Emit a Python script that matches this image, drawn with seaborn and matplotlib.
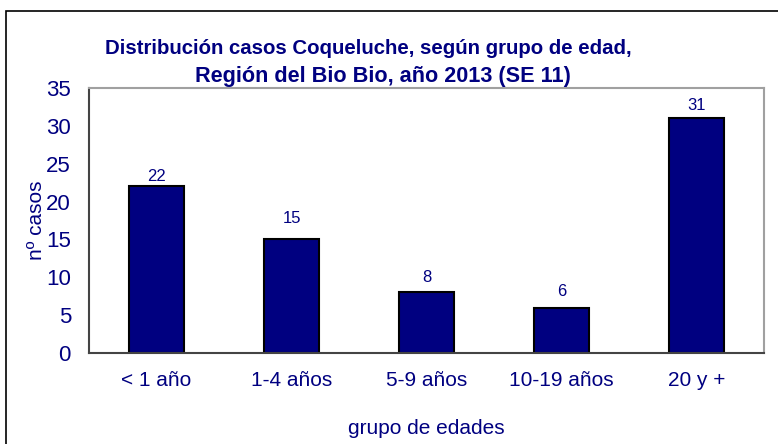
import matplotlib
matplotlib.use("Agg")
import matplotlib.pyplot as plt
import matplotlib.patches as mpatches
from matplotlib.ticker import FixedLocator
import seaborn as sns
import pandas as pd

# data
grupos = ["< 1 año", "1-4 años", "5-9 años", "10-19 años", "20 y +"]
casos = [22, 15, 8, 6, 31]
label_pad = [2, 10, 5, 6, 4]  # points above each bar, like the original

titulo_1 = "Distribución casos Coqueluche, según grupo de edad,"
titulo_2 = "Región del Bio Bio, año 2013 (SE 11)"

navy = "#000080"

sns.set_style("white")
plt.rcParams["font.family"] = ["Liberation Sans", "DejaVu Sans"]

df = pd.DataFrame({"grupo": grupos, "casos": casos})

fig = plt.figure(figsize=(7.78, 4.44), dpi=100)
ax = fig.add_axes([89 / 778, 91 / 444, 675 / 778, 265 / 444])

sns.barplot(data=df, x="grupo", y="casos", color=navy, saturation=1,
            width=0.41, edgecolor="black", linewidth=1.5, ax=ax)

for i, v in enumerate(casos):
    ax.annotate(str(v), (i, v), xytext=(0, label_pad[i]), textcoords="offset points",
                ha="center", va="bottom", fontsize=12, color=navy)

ax.set_ylim(0, 35)
ax.set_xlim(-0.5, len(grupos) - 0.5)
ax.set_yticks(range(0, 36, 5))
ax.xaxis.set_minor_locator(FixedLocator([i - 0.5 for i in range(len(grupos) + 1)]))
ax.tick_params(axis="x", which="major", length=0, labelsize=15, labelcolor=navy, pad=13)
ax.tick_params(axis="x", which="minor", length=6, width=1.2, color="#555555", direction="out")
ax.tick_params(axis="y", length=6, width=1.2, color="#555555", direction="out",
               labelsize=16, labelcolor=navy, pad=7)

for side in ["left", "bottom"]:
    ax.spines[side].set_color("#444444")
    ax.spines[side].set_linewidth(1.5)
for side in ["top", "right"]:
    ax.spines[side].set_color("#a0a0a0")
    ax.spines[side].set_linewidth(1.5)

ax.set_xlabel("grupo de edades", fontsize=15, color=navy, labelpad=21)
ax.set_ylabel("nº casos", fontsize=15, color=navy, labelpad=0)

# the two title lines are centred a bit differently in the source
fig.text(368 / 778, 1 - 54 / 444, titulo_1, ha="center", va="baseline",
         fontsize=14.7, fontweight="bold", color=navy)
fig.text(383 / 778, 1 - 82 / 444, titulo_2, ha="center", va="baseline",
         fontsize=15.6, fontweight="bold", color=navy)

# frame around the whole chart, cut off at right and bottom as in the source
fig.patches.append(mpatches.Rectangle((6 / 778, -0.05), 1.0, 1 - 11 / 444 + 0.05,
                                      transform=fig.transFigure, fill=False,
                                      edgecolor="black", linewidth=1.2))

fig.savefig("out.png", dpi=100)
